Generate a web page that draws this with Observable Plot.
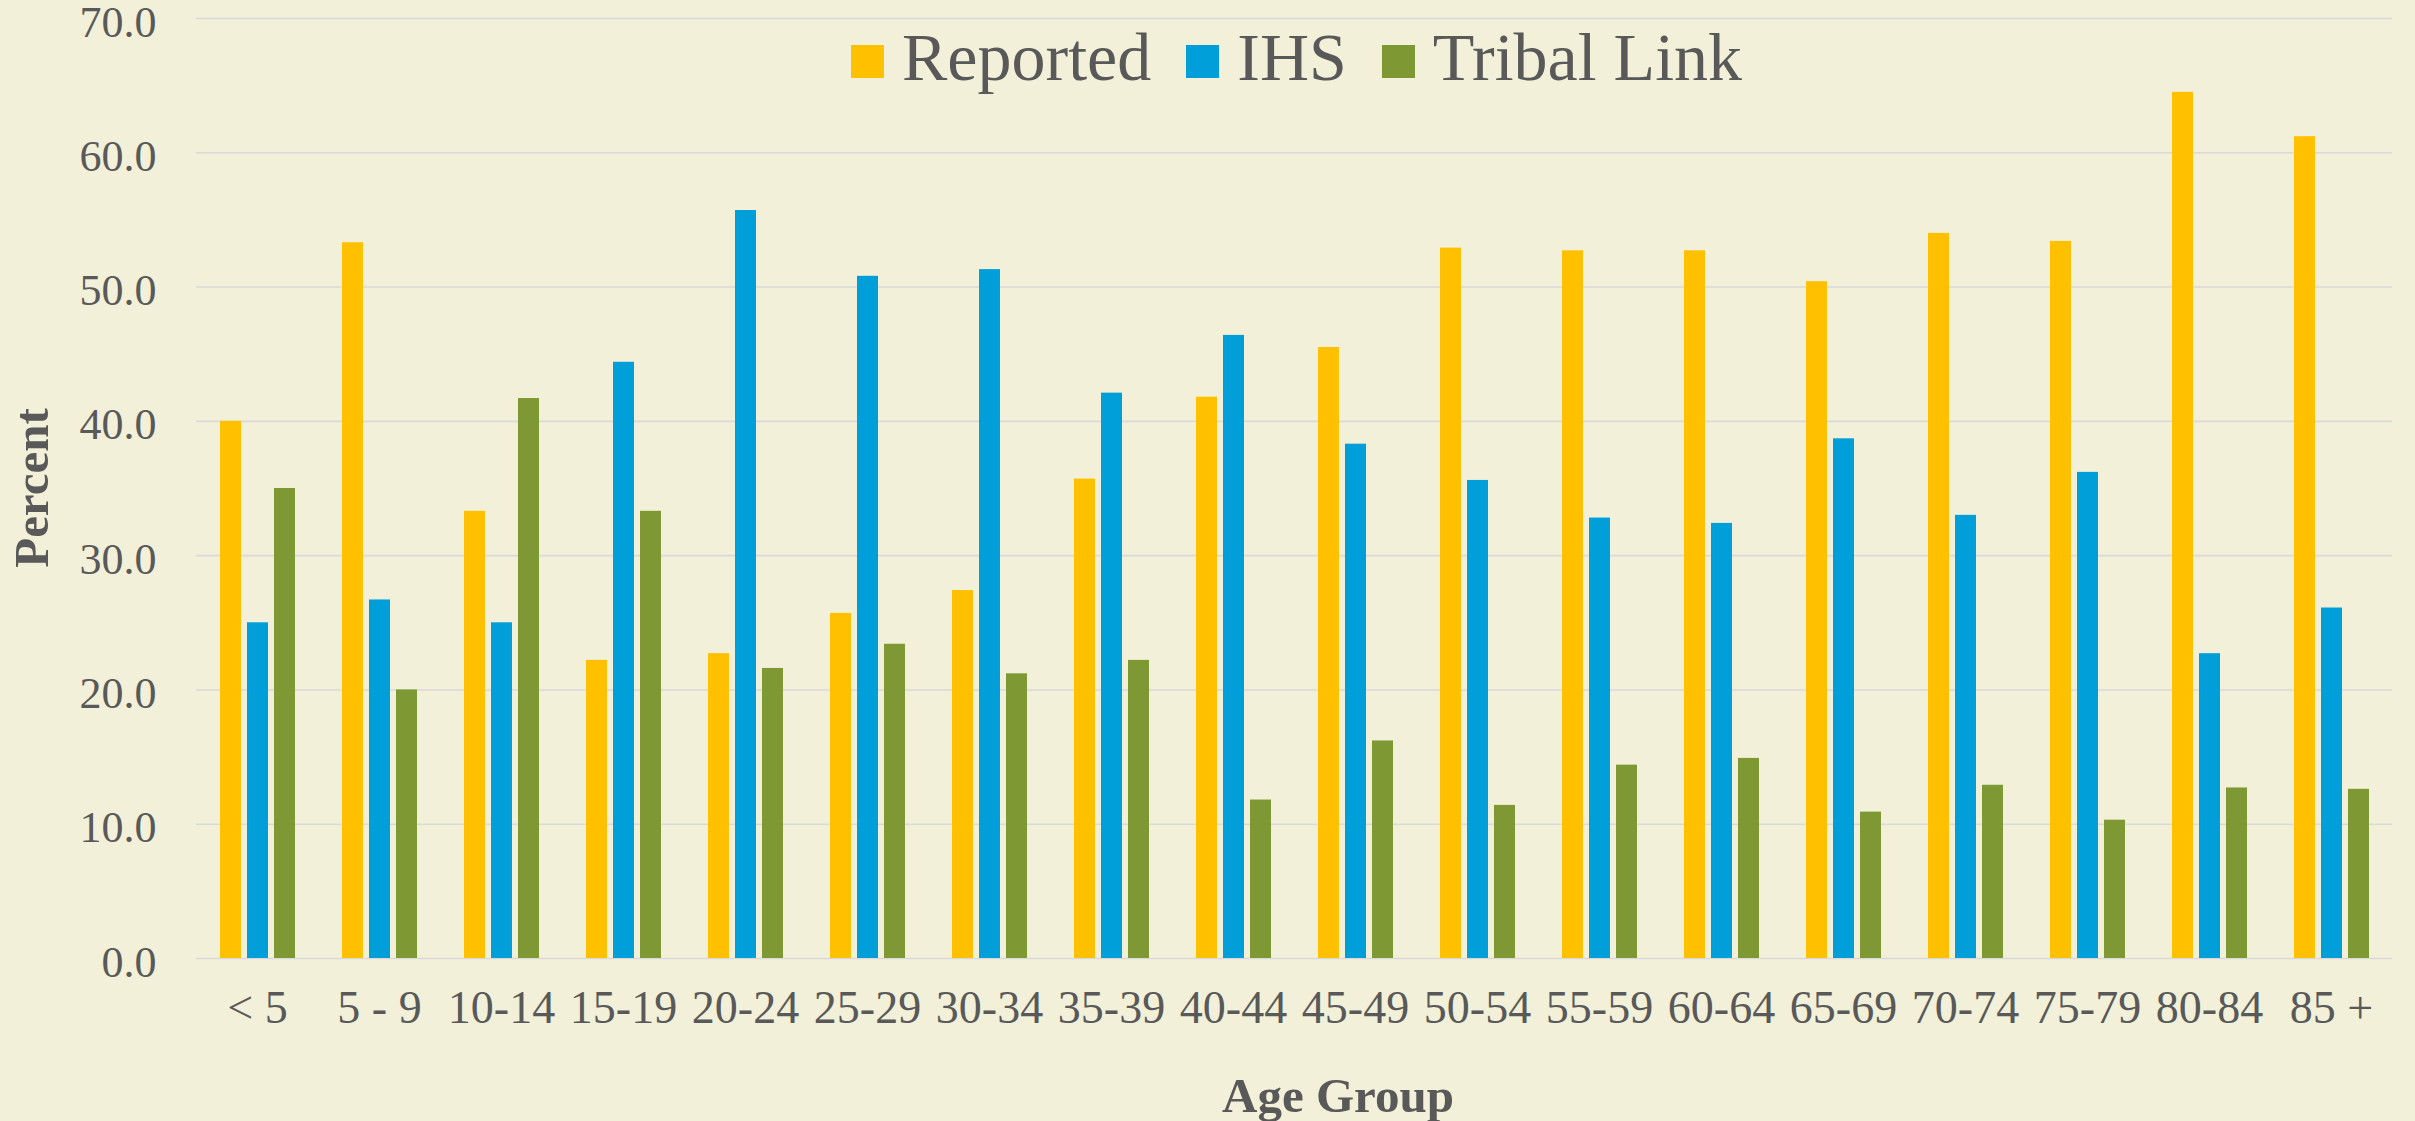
<!DOCTYPE html>
<html>
<head>
<meta charset="utf-8">
<script src="https://cdn.jsdelivr.net/npm/d3@7"></script>
<script src="https://cdn.jsdelivr.net/npm/@observablehq/plot@0.6"></script>
<style>
  html, body { margin: 0; padding: 0; background: #F2F0D8; }
  #wrap { position: relative; width: 2415px; height: 1121px; font-family: "Liberation Serif", serif; color: #595959; }
  #chart svg { overflow: visible; }
  #legend { position: absolute; left: 851px; top: 23px; display: flex; align-items: baseline; font-size: 68px; line-height: 68px; white-space: nowrap; }
  .item { display: inline-flex; align-items: baseline; margin-right: 35px; }
  .sw { display: inline-block; width: 33px; height: 33px; margin-right: 18px; position: relative; top: -2px; }
  #xlabel { position: absolute; left: 1338px; top: 1071px; transform: translateX(-50%); font-weight: bold; font-size: 49px; line-height: 49px; white-space: nowrap; }
  #ylabel { position: absolute; left: 31px; top: 488px; transform: translate(-50%, -50%) rotate(-90deg); font-weight: bold; font-size: 49px; line-height: 49px; white-space: nowrap; }
</style>
</head>
<body>
<div id="wrap">
  <div id="chart"></div>
  <div id="legend"></div>
  <div id="xlabel"></div>
  <div id="ylabel"></div>
</div>
<script>
const groups = ["< 5","5 - 9","10-14","15-19","20-24","25-29","30-34","35-39","40-44","45-49","50-54","55-59","60-64","65-69","70-74","75-79","80-84","85 +"];
const seriesNames = ["Reported", "IHS", "Tribal Link"];
const reported = [40.0,53.3,33.3,22.2,22.7,25.7,27.4,35.7,41.8,45.5,52.9,52.7,52.7,50.4,54.0,53.4,64.5,61.2];
const ihs      = [25.0,26.7,25.0,44.4,55.7,50.8,51.3,42.1,46.4,38.3,35.6,32.8,32.4,38.7,33.0,36.2,22.7,26.1];
const tribal   = [35.0,20.0,41.7,33.3,21.6,23.4,21.2,22.2,11.8,16.2,11.4,14.4,14.9,10.9,12.9,10.3,12.7,12.6];
const colors = ["#FFC000", "#009FDA", "#7E9933"];
const yTicks = [0, 10, 20, 30, 40, 50, 60, 70];
const xTitle = "Age Group";
const yTitle = "Percent";

const seriesValues = [reported, ihs, tribal];
const data = [];
groups.forEach((g, i) => {
  seriesNames.forEach((s, j) => data.push({group: g, series: s, value: seriesValues[j][i]}));
});

const chart = Plot.plot({
  width: 2415,
  height: 1121,
  marginLeft: 189,
  marginRight: 17,
  marginTop: 18,
  marginBottom: 163,
  style: { background: "#F2F0D8", color: "#595959", fontFamily: "'Liberation Serif', serif", fontSize: "46px", overflow: "visible" },
  fx: { domain: groups, padding: 0 },
  x: { domain: seriesNames, paddingInner: 0.23, paddingOuter: 0.86, axis: null },
  y: { domain: [0, 70] },
  color: { domain: seriesNames, range: colors },
  marks: [
    Plot.gridY(yTicks, { stroke: "#D9D9D9", strokeOpacity: 1, strokeWidth: 1.6 }),
    Plot.barY(data, { fx: "group", x: "series", y: "value", fill: "series" }),
    Plot.axisY({ ticks: yTicks, tickFormat: d3.format(".1f"), tickSize: 0, tickPadding: 40, label: null, fontSize: 44, dy: 4 }),
    Plot.axisFx({ anchor: "bottom", tickSize: 0, tickPadding: 32, label: null, fontSize: 46 })
  ]
});
document.getElementById("chart").appendChild(chart);

const legend = document.getElementById("legend");
seriesNames.forEach((s, j) => {
  const item = document.createElement("span");
  item.className = "item";
  const sw = document.createElement("span");
  sw.className = "sw";
  sw.style.background = colors[j];
  const t = document.createElement("span");
  t.textContent = s;
  item.appendChild(sw);
  item.appendChild(t);
  legend.appendChild(item);
});
document.getElementById("xlabel").textContent = xTitle;
document.getElementById("ylabel").textContent = yTitle;
</script>
</body>
</html>
